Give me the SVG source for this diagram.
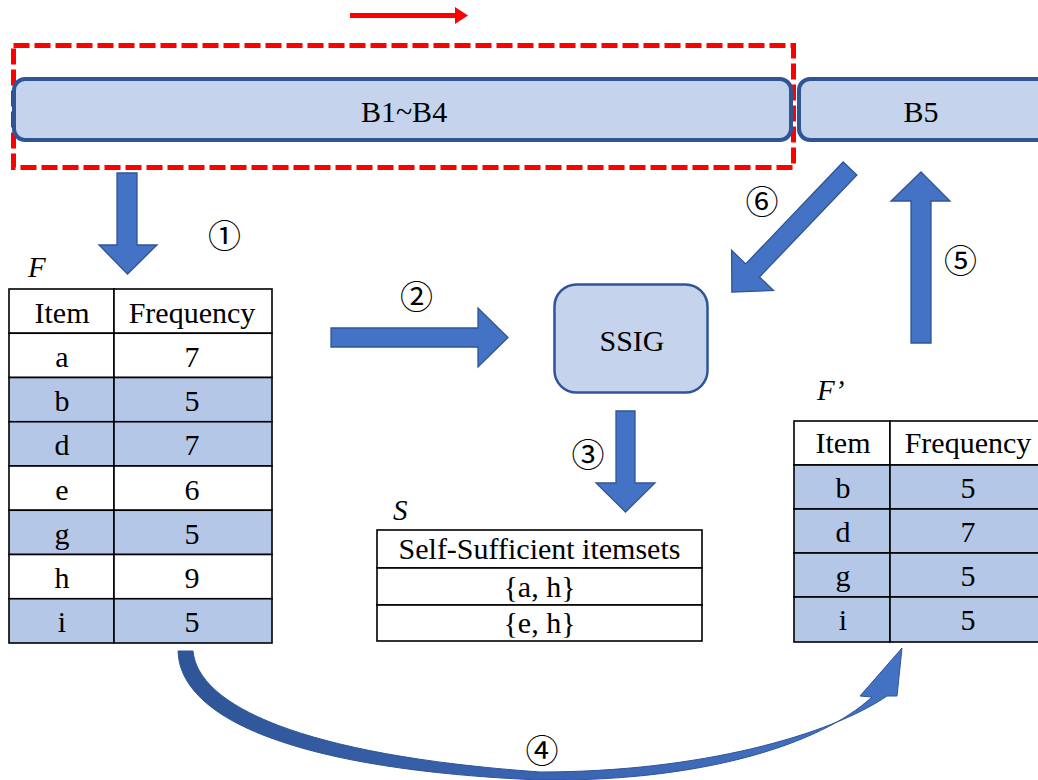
<svg xmlns="http://www.w3.org/2000/svg" width="1038" height="780" viewBox="0 0 1038 780">
  <defs>
    <style>
      .txt { font-family: "Liberation Serif", "Times New Roman", serif; font-size: 30px; fill: #000; text-anchor: middle; }
      .lbl { font-family: "Liberation Serif", "Times New Roman", serif; font-size: 29px; font-style: italic; fill: #000; }
      .num { font-family: "Noto Sans CJK JP", "Noto Sans", sans-serif; font-size: 33px; fill: #000; text-anchor: middle; }
      .blk { fill: #C6D3EC; stroke: #2F5597; }
      .arr { fill: #4472C4; stroke: #2F5597; stroke-width: 1.3; stroke-linejoin: miter; }
      .cell { fill: #FFFFFF; stroke: #000; stroke-width: 1.6; }
      .shade { fill: #B4C7E7; stroke: #000; stroke-width: 1.6; }
    </style>
    <linearGradient id="curveFill" x1="0" y1="0" x2="1" y2="0">
      <stop offset="0" stop-color="#2F5597"/>
      <stop offset="0.5" stop-color="#3A64B0"/>
      <stop offset="1" stop-color="#4472C4"/>
    </linearGradient>
  </defs>

  <rect x="0" y="0" width="1038" height="780" fill="#FFFFFF"/>

  <!-- direction of the data stream -->
  <g id="stream-direction">
    <line x1="350" y1="15.5" x2="456" y2="15.5" stroke="#FF0000" stroke-width="5"/>
    <polygon points="455,7 468,15.5 455,24" fill="#FF0000"/>
  </g>

  <!-- window over the processed batches -->
  <g id="window">
    <rect x="13.5" y="45.5" width="780" height="122" fill="none" stroke="#FF0000" stroke-width="5" stroke-dasharray="16 5"/>
  </g>

  <g id="batch-b1-b4">
    <rect class="blk" x="14" y="79" width="777" height="61" rx="11" stroke-width="4"/>
    <text class="txt" x="404" y="122">B1~B4</text>
  </g>

  <g id="batch-b5">
    <rect class="blk" x="799" y="79" width="270" height="61" rx="11" stroke-width="4"/>
    <text class="txt" x="921" y="122">B5</text>
  </g>

  <g id="ssig">
    <rect class="blk" x="554.5" y="284.5" width="153" height="108" rx="22" stroke-width="2.5"/>
    <text class="txt" x="632" y="351">SSIG</text>
  </g>

  <!-- frequency table F -->
  <g id="table-f">
    <text class="lbl" x="28" y="277">F</text>
    <rect class="cell" x="9" y="289" width="105" height="44.25"/>
    <rect class="cell" x="114" y="289" width="158" height="44.25"/>
    <rect class="cell" x="9" y="333.25" width="105" height="44.25"/>
    <rect class="cell" x="114" y="333.25" width="158" height="44.25"/>
    <rect class="shade" x="9" y="377.5" width="105" height="44.25"/>
    <rect class="shade" x="114" y="377.5" width="158" height="44.25"/>
    <rect class="shade" x="9" y="421.75" width="105" height="44.25"/>
    <rect class="shade" x="114" y="421.75" width="158" height="44.25"/>
    <rect class="cell" x="9" y="466" width="105" height="44.25"/>
    <rect class="cell" x="114" y="466" width="158" height="44.25"/>
    <rect class="shade" x="9" y="510.25" width="105" height="44.25"/>
    <rect class="shade" x="114" y="510.25" width="158" height="44.25"/>
    <rect class="cell" x="9" y="554.5" width="105" height="44.25"/>
    <rect class="cell" x="114" y="554.5" width="158" height="44.25"/>
    <rect class="shade" x="9" y="598.75" width="105" height="44.25"/>
    <rect class="shade" x="114" y="598.75" width="158" height="44.25"/>
    <text class="txt" x="62" y="323">Item</text>
    <text class="txt" x="192" y="323">Frequency</text>
    <text class="txt" x="62" y="367">a</text><text class="txt" x="192" y="367">7</text>
    <text class="txt" x="62" y="411">b</text><text class="txt" x="192" y="411">5</text>
    <text class="txt" x="62" y="455">d</text><text class="txt" x="192" y="455">7</text>
    <text class="txt" x="62" y="500">e</text><text class="txt" x="192" y="500">6</text>
    <text class="txt" x="62" y="544">g</text><text class="txt" x="192" y="544">5</text>
    <text class="txt" x="62" y="588">h</text><text class="txt" x="192" y="588">9</text>
    <text class="txt" x="62" y="632">i</text><text class="txt" x="192" y="632">5</text>
  </g>

  <!-- self-sufficient itemsets S -->
  <g id="table-s">
    <text class="lbl" x="393" y="520">S</text>
    <rect class="cell" x="377" y="530" width="325" height="38"/>
    <rect class="cell" x="377" y="568" width="325" height="37"/>
    <rect class="cell" x="377" y="605" width="325" height="36"/>
    <text class="txt" x="539.5" y="559">Self-Sufficient itemsets</text>
    <text class="txt" x="539.5" y="597">{a, h}</text>
    <text class="txt" x="539.5" y="633">{e, h}</text>
  </g>

  <!-- pruned frequency table F' -->
  <g id="table-f-prime">
    <text class="lbl" x="817" y="400">F’</text>
    <rect class="cell" x="794" y="421" width="96" height="44"/>
    <rect class="cell" x="890" y="421" width="160" height="44"/>
    <rect class="shade" x="794" y="465" width="96" height="44"/>
    <rect class="shade" x="890" y="465" width="160" height="44"/>
    <rect class="shade" x="794" y="509" width="96" height="44"/>
    <rect class="shade" x="890" y="509" width="160" height="44"/>
    <rect class="shade" x="794" y="553" width="96" height="44"/>
    <rect class="shade" x="890" y="553" width="160" height="44"/>
    <rect class="shade" x="794" y="597" width="96" height="45"/>
    <rect class="shade" x="890" y="597" width="160" height="45"/>
    <text class="txt" x="843" y="453">Item</text>
    <text class="txt" x="968" y="453">Frequency</text>
    <text class="txt" x="843" y="498">b</text><text class="txt" x="968" y="498">5</text>
    <text class="txt" x="843" y="542">d</text><text class="txt" x="968" y="542">7</text>
    <text class="txt" x="843" y="586">g</text><text class="txt" x="968" y="586">5</text>
    <text class="txt" x="843" y="630">i</text><text class="txt" x="968" y="630">5</text>
  </g>

  <!-- block arrows between the stages -->
  <g id="connectors">
    <polygon class="arr" points="117,173 137,173 137,245 157,245 127.5,274 99,245 117,245"/>
    <polygon class="arr" points="331,328 478,328 478,308 508,337.5 478,367 478,347 331,347"/>
    <polygon class="arr" points="616,411 635,411 635,483 655,483 625.5,512 596,483 616,483"/>
    <polygon class="arr" transform="translate(850,168.5) rotate(133.7)" points="0,-9.5 141,-9.5 141,-29 171,0 141,29 141,9.5 0,9.5"/>
    <polygon class="arr" points="911,343 911,201 891,201 921,172 950,201 931,201 931,343"/>
    <path d="M178,651 C180,720 300,770 540,780 C700,782 820,745 872,697 L860,696 L902,648 L897,696 L887,696 C830,735 700,772 540,772 C300,755 198,705 193,651 Z" fill="url(#curveFill)" stroke="#2F5597" stroke-width="1"/>
  </g>

  <!-- step numbers -->
  <g id="steps">
    <text class="num" x="224.5" y="248">①</text>
    <text class="num" x="416.5" y="308.5">②</text>
    <text class="num" x="588" y="466.5">③</text>
    <text class="num" x="542" y="763">④</text>
    <text class="num" x="960.5" y="272.5">⑤</text>
    <text class="num" x="762" y="214">⑥</text>
  </g>
</svg>
